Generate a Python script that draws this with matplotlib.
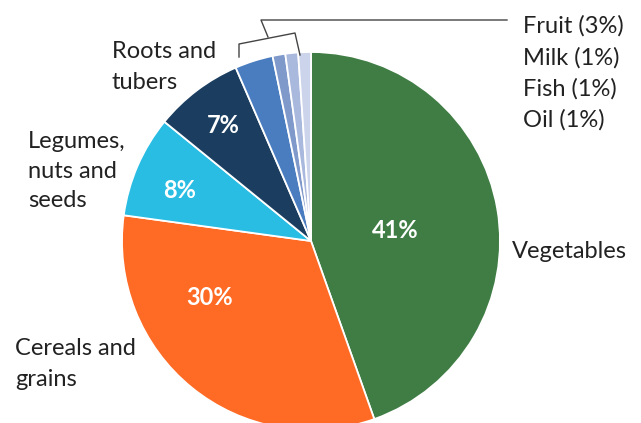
import matplotlib
matplotlib.use("Agg")
import matplotlib.pyplot as plt

categories = ["Vegetables", "Cereals and grains", "Legumes, nuts and seeds",
              "Roots and tubers", "Fruit", "Milk", "Fish", "Oil"]
values = [41, 30, 8, 7, 3, 1, 1, 1]
colors = ["#3F7D45", "#FF6A24", "#29BDE4", "#1B3E60",
          "#4A7DC0", "#7F99CB", "#A9B8DD", "#CBD4EA"]

W, H = 641, 423
fig = plt.figure(figsize=(W / 100, H / 100), dpi=100)
ax = fig.add_axes([0, 0, 1, 1])

cx, cy, r = 311, H - 241, 189
ax.pie(values, colors=colors, startangle=90, counterclock=False,
       center=(cx, cy), radius=r,
       wedgeprops=dict(edgecolor="white", linewidth=1.3))
ax.set_xlim(0, W)
ax.set_ylim(0, H)
ax.set_aspect("auto")
ax.axis("off")

font = "Lato"
fs = 17
tc = "#222222"
ls = 1.55

def px(x, y):
    return x, H - y

# Category labels
ax.text(*px(512, 251), "Vegetables", fontsize=fs, family=font, color=tc,
        ha="left", va="center")
ax.text(*px(15, 364), "Cereals and\ngrains", fontsize=fs, family=font, color=tc,
        ha="left", va="center", linespacing=ls)
ax.text(*px(28, 171), "Legumes,\nnuts and\nseeds", fontsize=fs, family=font,
        color=tc, ha="left", va="center", linespacing=1.5)
ax.text(*px(112, 67), "Roots and\ntubers", fontsize=fs, family=font, color=tc,
        ha="left", va="center", linespacing=ls)

small = [f"{c} ({v}%)" for c, v in zip(categories[4:], values[4:])]
ax.text(*px(523, 73), "\n".join(small), fontsize=fs, family=font, color=tc,
        ha="left", va="center", linespacing=ls)

# Percentage labels inside slices
pct_pos = [(395, 230), (210, 297), (180, 190), (223, 125)]
for v, (x, y) in zip(values[:4], pct_pos):
    ax.text(*px(x, y), f"{v}%", fontsize=fs, family=font, weight="bold",
            color="white", ha="center", va="center")

# Bracket for small slices
lc = "#444444"
ax.plot(*zip(px(239, 57), px(239, 44), px(295, 33), px(300, 55)),
        color=lc, lw=1.0)
ax.plot(*zip(px(268, 37), px(261, 20), px(507, 20)), color=lc, lw=1.0)

fig.savefig("out.png", dpi=100)
